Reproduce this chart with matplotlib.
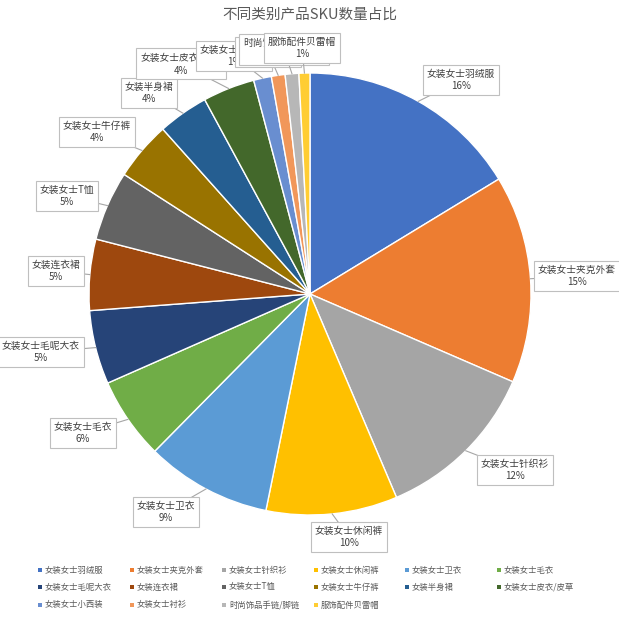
import matplotlib
matplotlib.use("Agg")
import matplotlib.pyplot as plt
import numpy as np

plt.rcParams['font.family'] = ['Noto Sans CJK SC', 'DejaVu Sans']

title = "不同类别产品SKU数量占比"
categories = ["女装女士羽绒服", "女装女士夹克外套", "女装女士针织衫", "女装女士休闲裤",
              "女装女士卫衣", "女装女士毛衣", "女装女士毛呢大衣", "女装连衣裙",
              "女装女士T恤", "女装女士牛仔裤", "女装半身裙", "女装女士皮衣/皮草",
              "女装女士小西装", "女装女士衬衫", "时尚饰品手链/脚链", "服饰配件贝雷帽"]
shares = [16.3, 15.2, 12.1, 9.6, 9.2, 6.0, 5.4, 5.2, 5.1, 4.3, 3.7, 3.8, 1.3, 1.0, 1.0, 0.8]
colors = ["#4472C4", "#ED7D31", "#A5A5A5", "#FFC000", "#5B9BD5", "#70AD47",
          "#264478", "#9E480E", "#636363", "#997300", "#255E91", "#43682B",
          "#698ED0", "#F1975A", "#B7B7B7", "#FFCD33"]

W = H = 619
fig = plt.figure(figsize=(6.19, 6.19), dpi=100)
ax = fig.add_axes([0, 0, 1, 1])

def Y(y):
    return H - y

cx, cy, R = 310, Y(294), 221
wedges, _ = ax.pie(shares, colors=colors, startangle=90, counterclock=False,
                   center=(cx, cy), radius=R,
                   wedgeprops=dict(edgecolor="white", linewidth=1.0))
ax.set_xlim(0, W)
ax.set_ylim(0, H)
ax.set_aspect("equal")
ax.axis("off")

# label box centres (image pixel coords)
label_pos = [(461, 80), (577, 276), (515, 470), (349, 537), (166, 512), (83, 433),
             (41, 352), (56, 271), (67, 196), (97, 132), (149, 93), (181, 64),
             (234, 56), (268, 52), (284, 50), (302, 48)]

total = sum(shares)
cum = 0.0
for i, (name, v) in enumerate(zip(categories, shares)):
    mid = (cum + v / 2) / total * 360.0
    cum += v
    ang = np.deg2rad(mid)
    ax_pt = (cx + R * np.sin(ang), cy + R * np.cos(ang))
    lx, ly = label_pos[i]
    ax.plot([lx, ax_pt[0]], [Y(ly), ax_pt[1]], color="#A6A6A6", lw=0.8, zorder=3 + 2 * i)
    pct = f"{int(np.floor(v / total * 100 + 0.5))}%"
    ax.text(lx, Y(ly), f"{name}\n{pct}", ha="center", va="center", fontsize=7,
            color="#404040", linespacing=1.3, zorder=4 + 2 * i,
            bbox=dict(boxstyle="square,pad=0.38", fc="white", ec="#BFBFBF", lw=0.8))

ax.text(W / 2, Y(15), title, ha="center", va="center", fontsize=10.5, color="#595959")

# legend (row-major, 6 columns)
col_x = [40, 132, 224, 316, 407, 499]
row_y = [570, 587, 605]
for i, name in enumerate(categories):
    r, c = divmod(i, 6)
    x, y = col_x[c], Y(row_y[r])
    ax.scatter([x], [y], marker="s", s=8, color=colors[i], linewidths=0)
    ax.text(x + 5, y, name, ha="left", va="center", fontsize=6, color="#595959")

fig.savefig("out.png", dpi=100, facecolor="white")
